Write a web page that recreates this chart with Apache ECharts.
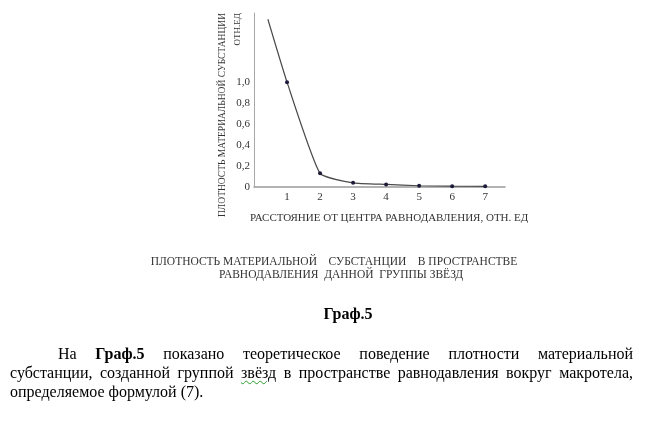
<!DOCTYPE html>
<html>
<head>
<meta charset="utf-8">
<script src="https://cdn.jsdelivr.net/npm/echarts@6/dist/echarts.min.js"></script>
<style>
  html, body { margin: 0; padding: 0; background: #fff; }
  #wrap { position: relative; width: 655px; height: 422px; overflow: hidden; }
  #chart { position: absolute; left: 0; top: 0; width: 655px; height: 422px; }
  #cap { position: absolute; left: 248px; width: 200px; top: 305px; text-align: center;
         font: bold 16px "Liberation Serif", serif; color: #000; }
  #para { position: absolute; left: 10px; width: 623px; top: 344px;
          font: 16px/19px "Liberation Serif", serif; color: #000; }
  #para .j { text-align: justify; text-align-last: justify; white-space: nowrap; }
  #para .first { padding-left: 48px; }
  #para .last { text-align: left; }
  .sp { text-decoration: underline wavy #2a9d2a; text-decoration-thickness: 1px; text-underline-offset: 2px; }
</style>
</head>
<body>
<div id="wrap">
  <div id="chart"></div>
  <div id="cap">Граф.5</div>
  <div id="para">
    <div class="j first">На <b>Граф.5</b> показано теоретическое поведение плотности материальной</div>
    <div class="j">субстанции, созданной группой <span class="sp">звёзд</span> в пространстве равнодавления вокруг макротела,</div>
    <div class="last">определяемое формулой (7).</div>
  </div>
</div>
<script>
// Data
const distance = [0.42, 1, 2, 3, 4, 5, 6, 7];
const density  = [1.60, 1.00, 0.13, 0.04, 0.025, 0.012, 0.008, 0.006];
const markedFrom = 1; // first point is the curve start, without a marker
const yTitleLines = ['ПЛОТНОСТЬ МАТЕРИАЛЬНОЙ СУБСТАНЦИИ', 'ОТН.ЕД'];
const xTitle = 'РАССТОЯНИЕ ОТ ЦЕНТРА РАВНОДАВЛЕНИЯ, ОТН. ЕД';
const captionLines = ['ПЛОТНОСТЬ МАТЕРИАЛЬНОЙ    СУБСТАНЦИИ    В ПРОСТРАНСТВЕ',
                      'РАВНОДАВЛЕНИЯ  ДАННОЙ  ГРУППЫ ЗВЁЗД'];

const serif = '"Liberation Serif", "DejaVu Serif", serif';
const seriesData = distance.map((x, i) => ({
  value: [x, density[i]],
  symbol: i < markedFrom ? 'none' : 'circle'
}));

const chart = echarts.init(document.getElementById('chart'), null, { renderer: 'canvas' });
chart.setOption({
  animation: false,
  backgroundColor: '#fff',
  grid: { left: 254, right: 150, top: 13, bottom: 235, containLabel: false },
  xAxis: {
    type: 'value', min: 0, max: 7.6, interval: 1,
    axisLine: { show: true, lineStyle: { color: '#9a9a9a', width: 1.5 } },
    axisTick: { show: false },
    splitLine: { show: false },
    axisLabel: {
      margin: 5, color: '#333', fontFamily: serif, fontSize: 11,
      showMaxLabel: false,
      formatter: v => (v >= 1 && v <= 7) ? String(v) : ''
    }
  },
  yAxis: {
    type: 'value', min: 0, max: 1.66, interval: 0.2,
    axisLine: { show: true, lineStyle: { color: '#a8a8a8', width: 1 } },
    axisTick: { show: false },
    splitLine: { show: false },
    axisLabel: {
      margin: 4, color: '#333', fontFamily: serif, fontSize: 11,
      showMaxLabel: false,
      formatter: v => v > 1.01 ? '' : (v === 0 ? '0' : v.toFixed(1).replace('.', ','))
    }
  },
  series: [{
    type: 'line',
    data: seriesData,
    smooth: 0.15,
    symbolSize: 4,
    itemStyle: { color: '#1c1c3a' },
    lineStyle: { color: '#4a4a4a', width: 1.2 }
  }],
  graphic: [
    { type: 'text', x: 222, y: 13, rotation: Math.PI / 2,
      style: { text: yTitleLines[0], font: '9.5px ' + serif, fill: '#333', align: 'right', verticalAlign: 'middle' } },
    { type: 'text', x: 238, y: 13, rotation: Math.PI / 2,
      style: { text: yTitleLines[1], font: '9px ' + serif, fill: '#333', align: 'right', verticalAlign: 'middle' } },
    { type: 'text', x: 250, y: 218,
      style: { text: xTitle, font: '11px ' + serif, fill: '#333', align: 'left', verticalAlign: 'middle' } },
    { type: 'text', x: 334, y: 262,
      style: { text: captionLines[0], font: '11.5px ' + serif, fill: '#333', align: 'center', verticalAlign: 'middle' } },
    { type: 'text', x: 341, y: 275,
      style: { text: captionLines[1], font: '11.5px ' + serif, fill: '#333', align: 'center', verticalAlign: 'middle' } }
  ]
});
</script>
</body>
</html>
